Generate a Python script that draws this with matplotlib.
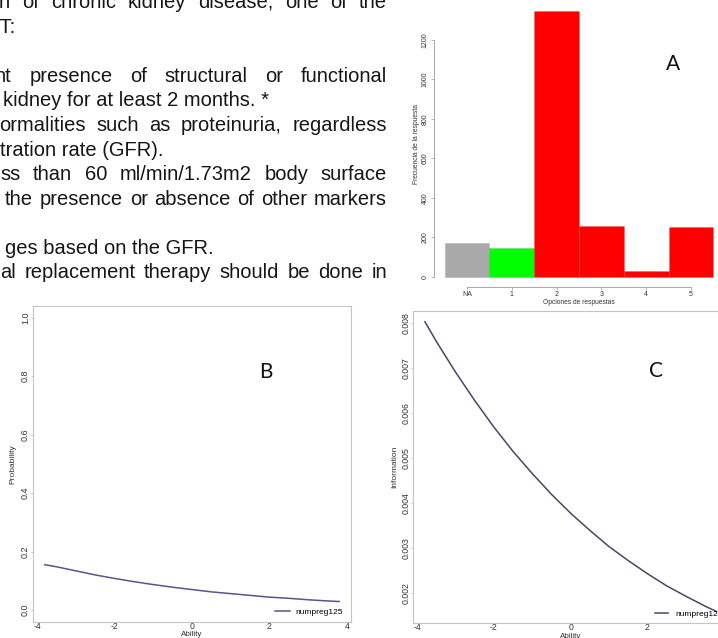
import matplotlib
matplotlib.use("Agg")
import matplotlib.pyplot as plt

# ---------------- data ----------------
categories = ["NA", "1", "2", "3", "4", "5"]
freq = [174, 145, 1347, 260, 29, 252]

theta = [-3.8, -3.5, -3.0, -2.5, -2.0, -1.5, -1.0, -0.5, 0.0,
         0.5, 1.0, 1.5, 2.0, 2.5, 3.0, 3.5, 3.8]
prob = [0.155, 0.148, 0.134, 0.120, 0.108, 0.097, 0.087, 0.078, 0.070,
        0.062, 0.056, 0.050, 0.044, 0.040, 0.035, 0.031, 0.029]
info = [0.00803, 0.00759, 0.00691, 0.00628, 0.00569, 0.00515, 0.00466, 0.00420, 0.00378,
        0.00340, 0.00304, 0.00273, 0.00244, 0.00217, 0.00194, 0.00172, 0.00160]
series_name = "numpreg125"

prob_ticks = [0.0, 0.2, 0.4, 0.6, 0.8, 1.0]
info_ticks = [0.002, 0.003, 0.004, 0.005, 0.006, 0.007, 0.008]
ability_ticks = [-4, -2, 0, 2, 4]
freq_ticks = [0, 200, 400, 600, 800, 1000, 1200]

text_lines = [
    "n of chronic kidney disease, one of the",
    "CT:",
    "",
    "nt presence of structural or functional",
    "kidney for at least 2 months. *",
    "ormalities such as proteinuria, regardless",
    "tration rate (GFR).",
    "ss than 60 ml/min/1.73m2 body surface",
    "the presence or absence of other markers",
    "",
    "ges based on the GFR.",
    "al replacement therapy should be done in",
]

bar_colors = ["#a9a9a9", "#00ff00", "#ff0000", "#ff0000", "#ff0000", "#ff0000"]

# ---------------- figure ----------------
W, H = 718, 638
fig = plt.figure(figsize=(W / 100, H / 100), dpi=100)
fig.patch.set_facecolor("white")


def box(l, t, r, b):
    return [l / W, 1 - b / H, (r - l) / W, (b - t) / H]


# ---------------- text block ----------------
renderer = fig.canvas.get_renderer()
TFONT = dict(family="Liberation Sans", fontsize=14.5, color="#161616")


def width(s):
    t = fig.text(0, 0, s, **TFONT)
    w = t.get_window_extent(renderer).width
    t.remove()
    return w


# (baseline px, mode, left x, right x)
layout = [
    (7.5, "just", -1, 387),
    (33, "right", None, 15),
    None,
    (82, "just", -5, 387),
    (106.5, "right", None, 269),
    (131, "just", -1, 387),
    (156, "right", None, 163),
    (180.5, "just", 0, 387),
    (205, "just", 5, 387),
    None,
    (254.5, "right", None, 214),
    (278.5, "just", 0, 387),
]

for line, lay in zip(text_lines, layout):
    if lay is None or not line:
        continue
    base, mode, lx, rx = lay
    yy = 1 - base / H
    if mode == "right":
        fig.text(rx / W, yy, line, ha="right", va="baseline", **TFONT)
        continue
    words = line.split(" ")
    ws = [width(w) for w in words]
    gap = (rx - lx - sum(ws)) / (len(ws) - 1)
    x = lx
    for w, wd in zip(words, ws):
        fig.text(x / W, yy, w, ha="left", va="baseline", **TFONT)
        x += wd + gap

# ---------------- panel A ----------------
pos = list(range(len(categories)))
axA = fig.add_axes(box(434, 0, 740, 287.3))
axA.set_xlim(-0.7366, 6.094)
axA.set_ylim(-52.2, 1402.5)
axA.bar(pos, freq, width=1.0, color=bar_colors, edgecolor=(0, 0, 0, 0.12), linewidth=0.5)
axA.patch.set_alpha(0)
for s in ["top", "right"]:
    axA.spines[s].set_visible(False)
axA.spines["left"].set_bounds(0, 1200)
axA.spines["bottom"].set_bounds(0, 5)
for s in ["left", "bottom"]:
    axA.spines[s].set_color("#9a9a9a")
    axA.spines[s].set_linewidth(0.6)
axA.set_yticks(freq_ticks)
axA.set_yticklabels([str(v) for v in freq_ticks], rotation=90, va="center", fontsize=5,
                    family="Liberation Sans", color="#333333")
axA.set_xticks(pos)
axA.set_xticklabels(categories, fontsize=5, family="Liberation Sans", color="#333333")
axA.tick_params(axis="y", length=2.5, width=0.5, color="#9a9a9a", pad=1.2)
axA.tick_params(axis="x", length=2.0, width=0.5, color="#9a9a9a", pad=0.6)
axA.set_ylabel("Frecuencia de la respuesta", fontsize=4.8, family="Liberation Sans", color="#333333")
axA.yaxis.set_label_coords(-0.0458, 0.5)
axA.set_xlabel("Opciones de respuestas", fontsize=4.8, family="Liberation Sans", color="#333333")
axA.xaxis.set_label_coords((579 - 434) / 306, (287.3 - 302.5) / 287.3)
axA.xaxis.label.set_va("center")
axA.text((673 - 434) / 306, (287.3 - 63.7) / 287.3, "A", transform=axA.transAxes,
         ha="center", va="center", fontsize=15, family="Lato", color="#111111")

# ---------------- panel B ----------------
axB = fig.add_axes(box(33, 306, 351, 621.7))
axB.plot(theta, prob, color="#55558f", linewidth=1.1, label=series_name)
axB.set_xlim(-4.104, 4.104)
axB.set_ylim(-0.04, 1.04)
axB.set_yticks(prob_ticks)
axB.set_yticklabels([f"{v:.1f}" for v in prob_ticks], rotation=90, va="center",
                    fontsize=6.5, family="Liberation Sans", color="#333333")
axB.set_xticks(ability_ticks)
axB.set_xticklabels([str(v) for v in ability_ticks], fontsize=6.2, family="Liberation Sans",
                    color="#333333")
axB.set_ylabel("Probability", fontsize=6, family="Liberation Sans", color="#333333")
axB.yaxis.set_label_coords((16 - 33) / 318, 0.5)
axB.set_xlabel("Ability", fontsize=5.8, family="Liberation Sans", color="#333333")
axB.xaxis.set_label_coords(0.5, (621.7 - 634.5) / 315.7)
axB.xaxis.label.set_va("center")
axB.text((266 - 33) / 318, (621.7 - 372) / 315.7, "B", transform=axB.transAxes,
         ha="center", va="center", fontsize=15, family="Lato", color="#111111")
axB.legend(loc="lower right", bbox_to_anchor=((343 - 33) / 318, (621.7 - 615.5) / 315.7),
           frameon=False, prop={"family": "Liberation Sans", "size": 6},
           handlelength=1.7, handletextpad=0.7, borderpad=0, borderaxespad=0)

# ---------------- panel C ----------------
axC = fig.add_axes(box(413.3, 311, 728, 622.7))
axC.plot(theta, info, color="#474766", linewidth=1.1, label=series_name)
axC.set_xlim(-4.104, 4.104)
axC.set_ylim(0.00135, 0.00827)
axC.set_yticks(info_ticks)
axC.set_yticklabels([f"{v:.3f}" for v in info_ticks], rotation=90, va="center",
                    fontsize=6.3, family="Liberation Sans", color="#333333")
axC.set_xticks(ability_ticks)
axC.set_xticklabels([str(v) for v in ability_ticks], fontsize=6.2, family="Liberation Sans",
                    color="#333333")
axC.set_ylabel("Information", fontsize=6, family="Liberation Sans", color="#333333")
axC.yaxis.set_label_coords((398 - 413.3) / 314.7, (622.7 - 466.7) / 311.7)
axC.set_xlabel("Ability", fontsize=5.8, family="Liberation Sans", color="#333333")
axC.xaxis.set_label_coords((571 - 413.3) / 314.7, (622.7 - 636.5) / 311.7)
axC.xaxis.label.set_va("center")
axC.text((656 - 413.3) / 314.7, (622.7 - 371) / 311.7, "C", transform=axC.transAxes,
         ha="center", va="center", fontsize=15, family="Lato", color="#111111")
axC.legend(loc="lower left", bbox_to_anchor=((655 - 413.3) / 314.7, (622.7 - 617.5) / 311.7),
           frameon=False, prop={"family": "Liberation Sans", "size": 6},
           handlelength=1.6, handletextpad=0.9, borderpad=0, borderaxespad=0)

for ax in (axB, axC):
    for s in ax.spines.values():
        s.set_color("#c4c4c4")
        s.set_linewidth(0.8)
    ax.tick_params(axis="y", length=1.5, width=0.5, color="#b0b0b0", pad=0.6)
    ax.tick_params(axis="x", length=0.5, width=0.5, color="#b0b0b0", pad=-0.4)

fig.savefig("out.png", dpi=100, facecolor="white")
